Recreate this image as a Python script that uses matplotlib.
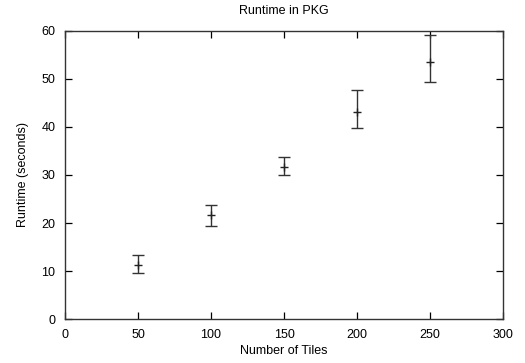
import matplotlib
matplotlib.use("Agg")
import matplotlib.pyplot as plt

tiles = [50, 100, 150, 200, 250]
runtime = [11.25, 21.7, 31.6, 43.1, 53.5]
err_low = [9.6, 19.3, 30.0, 39.7, 49.4]
err_high = [13.3, 23.8, 33.7, 47.6, 59.2]

plt.rcParams['font.family'] = ['Liberation Sans', 'DejaVu Sans']

fig = plt.figure(figsize=(5.25, 3.63), dpi=100)
ax = fig.add_axes([0.124, 0.121, 0.834, 0.794])

yerr = [[r - l for r, l in zip(runtime, err_low)],
        [h - r for r, h in zip(runtime, err_high)]]
ax.errorbar(tiles, runtime, yerr=yerr, fmt='+', color='#222222', ecolor='#333333',
            elinewidth=1.0, capsize=4, capthick=1.0, markersize=6, markeredgewidth=1.0)

ax.set_xlim(0, 300)
ax.set_ylim(0, 60)
ax.set_xticks([0, 50, 100, 150, 200, 250, 300])
ax.set_yticks([0, 10, 20, 30, 40, 50, 60])
ax.tick_params(direction='in', top=True, right=True, length=5, width=0.9,
               labelsize=9, pad=7)
for s in ax.spines.values():
    s.set_linewidth(1.0)
    s.set_color('#333333')

ax.set_title('Runtime in PKG', fontsize=9, pad=12)
ax.set_xlabel('Number of Tiles', fontsize=9, labelpad=3)
ax.set_ylabel('Runtime (seconds)', fontsize=9, labelpad=9)

fig.savefig('out.png', dpi=100)
